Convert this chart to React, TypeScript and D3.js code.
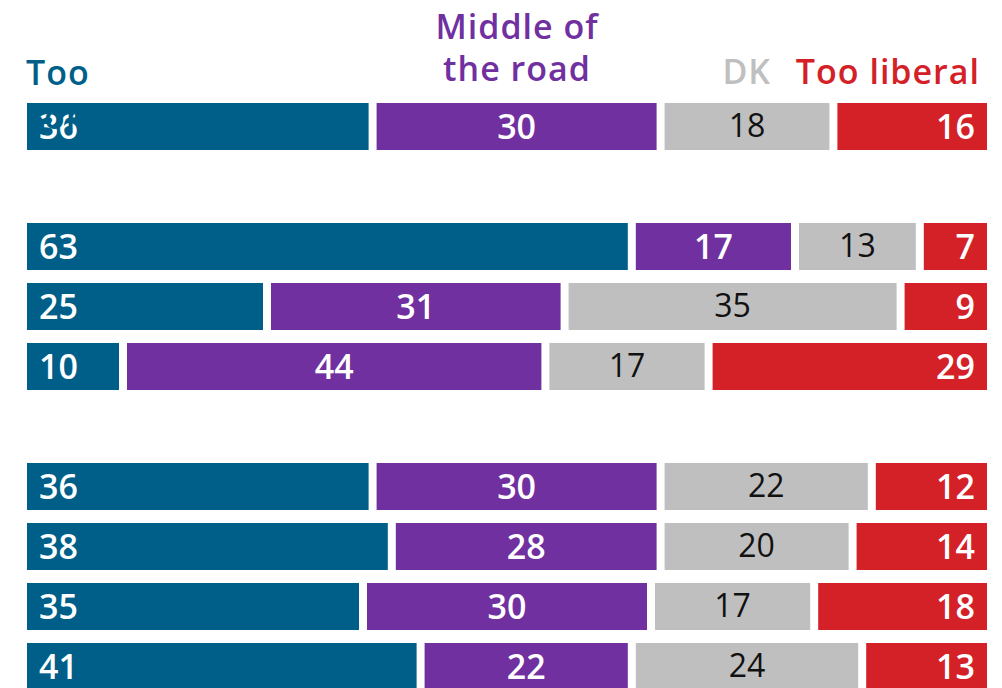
import React from "react";
import * as d3 from "d3";

const categories = ["Too conservative", "Middle of the road", "DK", "Too liberal"];
const rowSlots = [0, 2, 3, 4, 6, 7, 8, 9];
const tooConservative = [36, 63, 25, 10, 36, 38, 35, 41];
const middle = [30, 17, 31, 44, 30, 28, 30, 22];
const dk = [18, 13, 35, 17, 22, 20, 17, 24];
const tooLiberal = [16, 7, 9, 29, 12, 14, 18, 13];

const colors = ["#005f89", "#7030a0", "#bfbfbf", "#d42027"];
const labelColors = ["#ffffff", "#ffffff", "#111111", "#ffffff"];
const FONT = "'Open Sans', Lato, sans-serif";

export default function App() {
  const W = 1002, H = 688;
  const x = d3.scaleLinear().domain([0, 100]).range([27, 987]);
  const y = d3.scaleLinear().domain([0, 1]).range([103, 163]);
  const rows = rowSlots.map((slot, i) => ({
    slot,
    vals: [tooConservative[i], middle[i], dk[i], tooLiberal[i]],
  }));
  const series = d3.stack<any>().keys(["0", "1", "2", "3"])(
    rows.map((r) => ({ "0": r.vals[0], "1": r.vals[1], "2": r.vals[2], "3": r.vals[3] }))
  );
  const gap = 4;
  const bh = 47;
  const head = { fontFamily: FONT, fontWeight: 600, fontSize: 34, letterSpacing: 1 } as any;

  return (
    <svg width={W} height={H} style={{ position: "absolute", left: 0, top: 0, background: "#fff" }}>
      <g {...head}>
        <text x={26} y={85} fill={colors[0]}>{categories[0].split(" ")[0]}</text>
        <text x={517} y={39} fill={colors[1]} textAnchor="middle">Middle of</text>
        <text x={517} y={81} fill={colors[1]} textAnchor="middle">the road</text>
        <text x={771} y={84} fill={colors[2]} textAnchor="end">{categories[2]}</text>
        <text x={980} y={84} fill={colors[3]} textAnchor="end">{categories[3]}</text>
      </g>
      {series.map((s, k) => (
        <g key={k}>
          {s.map((d, i) => {
            const top = y(rows[i].slot);
            const x0 = x(d[0]) + (d[0] > 0 ? gap : 0);
            const x1 = x(d[1]) - (d[1] < 100 ? gap : 0);
            const val = d[1] - d[0];
            let tx = (x0 + x1) / 2;
            let anchor = "middle";
            if (k === 0) { tx = x0 + 12; anchor = "start"; }
            if (k === 3) { tx = x1 - 12; anchor = "end"; }
            return (
              <g key={i}>
                <rect x={x0} y={top} width={x1 - x0} height={bh} fill={colors[k]} />
                <text
                  x={tx}
                  y={top + (k === 2 ? 34 : 36)}
                  textAnchor={anchor}
                  fill={labelColors[k]}
                  fontFamily={FONT}
                  fontWeight={k === 2 ? 400 : 600}
                  fontSize={k === 2 ? 32 : 34}
                >
                  {val}
                </text>
              </g>
            );
          })}
        </g>
      ))}
      <text x={26} y={129} fill={colors[0]} {...head}>{categories[0].split(" ")[1]}</text>
    </svg>
  );
}
